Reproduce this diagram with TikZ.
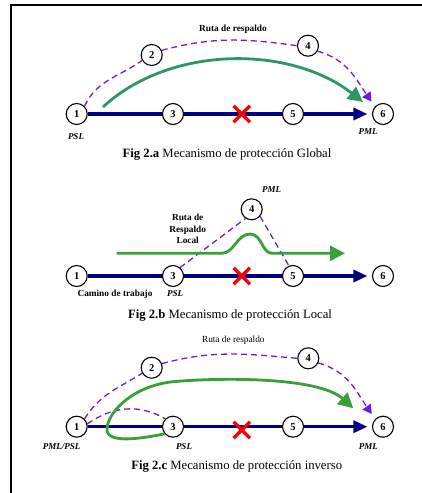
\documentclass[tikz,border=0pt]{standalone}
\usepackage{fontspec}
\setmainfont{Liberation Serif}
\usetikzlibrary{arrows.meta,shapes.misc,backgrounds}

\definecolor{navy}{RGB}{0,0,128}
\definecolor{purp}{RGB}{110,25,225}
\definecolor{tealgreen}{RGB}{45,150,100}
\definecolor{grass}{RGB}{55,160,55}
\definecolor{xred}{RGB}{250,0,0}

\tikzset{
  nd/.style={circle, draw, fill=white, line width=1.1pt, minimum size=21pt, inner sep=0pt,
    font=\bfseries\fontsize{10.5}{10.5}\selectfont},
  work/.style={draw=navy, line width=3.2pt,
    -{Triangle[length=14pt,width=12pt]}, shorten >=4.5pt},
  backup/.style={draw=purp, line width=1.3pt, dash pattern=on 6pt off 4pt},
  backuparrow/.style={backup, -{Triangle[length=9pt,width=10pt]}},
  alt/.style={line width=2.8pt, -{Triangle[length=15pt,width=15pt]}},
  fail/.style={cross out, draw=xred, line width=3.4pt, minimum size=13pt, inner sep=0pt},
  role/.style={font=\bfseries\itshape\fontsize{9}{9}\selectfont},
  hdr/.style={font=\bfseries\fontsize{9.3}{11.5}\selectfont},
  figcaption/.style={font=\fontsize{12.7}{12.7}\selectfont}
}

\begin{document}
\begin{tikzpicture}[x=1pt,y=-1pt]
\useasboundingbox (0,0) rectangle (422,493);

% frame
\draw[line width=1.6pt] (422,5) -- (11,5) -- (11,493);

% ---------- Fig 2.a ----------
\node[nd] (a1) at (76.7,114) {1};
\node[nd] (a2) at (151.7,55) {2};
\node[nd] (a3) at (173,114) {3};
\node[nd] (a4) at (308,45.7) {4};
\node[nd] (a5) at (293,114) {5};
\node[nd] (a6) at (383,114) {6};
\begin{scope}[on background layer]
  \draw[work] (a1) -- (a6);
  \draw[backup] (a1.45) to[out=65,in=215] (a2.210);
  \draw[backup] (a2.25) to[out=15,in=172] (a4.180);
  \draw[backuparrow, shorten >=6pt] (a4.-30) to[out=-15,in=125] (a6.137);
\end{scope}
\node[fail] (ax) at (241.7,114) {};
\coordinate (ag0) at (103,107);
\coordinate (ag1) at (363,102);
\draw[alt, draw=tealgreen] (ag0) .. controls (170,45) and (290,45) .. (ag1);
\node[hdr] (ahdr) at (233,29) {Ruta de respaldo};
\node[role] (apsl) at (76,137) {PSL};
\node[role] (apml) at (368,132) {PML};
\node[figcaption] (acap) at (227,154) {\textbf{Fig 2.a} Mecanismo de protección Global};

% ---------- Fig 2.b ----------
\node[nd] (b1) at (76.7,276) {1};
\node[nd] (b3) at (173,276) {3};
\node[nd] (b4) at (251.7,209.3) {4};
\node[nd] (b5) at (293,276) {5};
\node[nd] (b6) at (383,276) {6};
\begin{scope}[on background layer]
  \draw[work] (b1) -- (b6);
  \draw[backup] (b3.50) -- (b4.236);
  \draw[backup] (b4.-40) -- (b5.112);
\end{scope}
\node[fail] (bx) at (241.7,276) {};
\coordinate (bg0) at (116.7,253.3);
\coordinate (bg1) at (345,253.3);
\draw[alt, draw=grass] (bg0) -- (221.7,253.3)
  .. controls (234,253.3) and (237,234) .. (250,234)
  .. controls (262,234) and (262,253.3) .. (272,253.3) -- (bg1);
\node[role] (bpml) at (271.7,190) {PML};
\node[hdr, align=center] (bhdr) at (187.7,229.3) {Ruta de\\Respaldo\\Local};
\node[hdr] (bwork) at (115,294) {Camino de trabajo};
\node[role] (bpsl) at (175,294) {PSL};
\node[figcaption] (bcap) at (230,315.7) {\textbf{Fig 2.b} Mecanismo de protección Local};

% ---------- Fig 2.c ----------
\node[nd] (c1) at (76.7,426.7) {1};
\node[nd] (c2) at (151.7,367.7) {2};
\node[nd] (c3) at (173,426.7) {3};
\node[nd] (c4) at (308.3,358.3) {4};
\node[nd] (c5) at (293,426.7) {5};
\node[nd] (c6) at (383,426.7) {6};
\begin{scope}[on background layer]
  \draw[work] (c1) -- (c6);
  \draw[backup] (c1.45) to[out=58,in=212] (c2.210);
  \draw[backup] (c2.22) to[out=15,in=175] (c4.180);
  \draw[backuparrow, shorten >=6pt] (c4.-25) to[out=-15,in=125] (c6.135);
  \draw[backup] (c1.15) to[out=35,in=150] (c3.134);
\end{scope}
\node[fail] (cx) at (241.7,430) {};
\coordinate (cg1) at (353.3,408.3);
\draw[alt, draw=grass] (c3.220)
  .. controls (135,440) and (105,443) .. (107,428)
  .. controls (109,410) and (135,385) .. (175,381.5)
  .. controls (230,377) and (320,378) .. (cg1);
\node[font=\fontsize{9.3}{9.3}\selectfont] (chdr) at (233.3,340.7) {Ruta de respaldo};
\node[role] (cpp) at (61.7,446.7) {PML/PSL};
\node[role] (cpsl) at (184,446.7) {PSL};
\node[role] (cpml) at (368.3,446.7) {PML};
\node[figcaption] (ccap) at (236.7,466.7) {\textbf{Fig 2.c} Mecanismo de protección inverso};
\end{tikzpicture}
\end{document}
